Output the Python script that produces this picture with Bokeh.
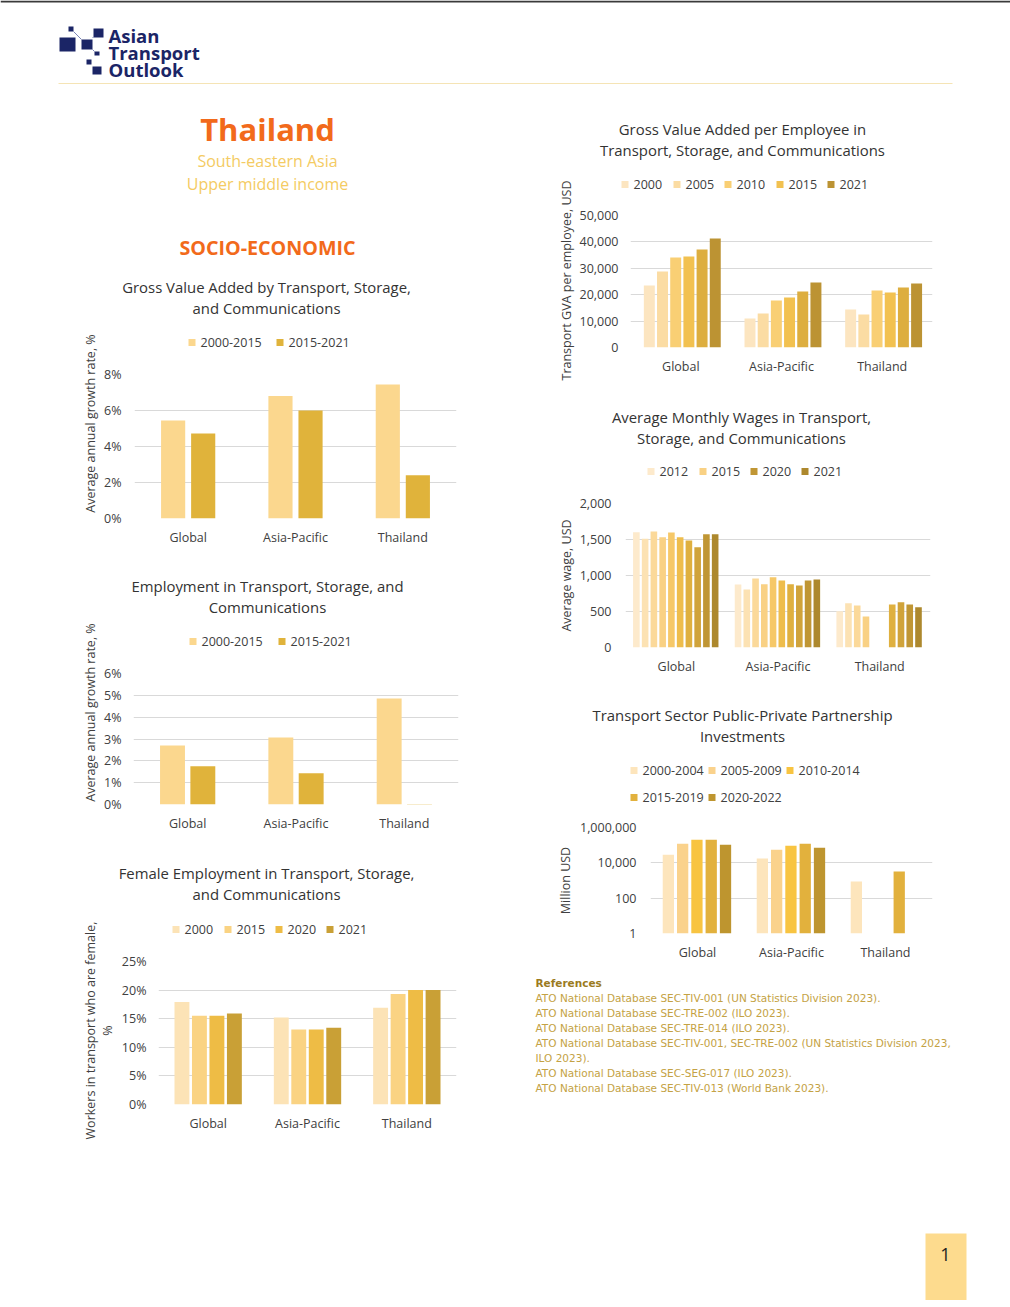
import math
from bokeh.plotting import figure
from bokeh.models import (ColumnDataSource, Range1d, FixedTicker, PrintfTickFormatter,
                          NumeralTickFormatter)
from bokeh.transform import dodge
from bokeh.layouts import column, row
from bokeh.embed import file_html
from bokeh.resources import INLINE
from bokeh.core.properties import value

NAN = float("nan")

# ---------------- data ----------------
REGIONS = ["Global", "Asia-Pacific", "Thailand"]

GVA_GROWTH_PERIODS = ["2000-2015", "2015-2021"]
GVA_GROWTH_2000_2015 = [5.45, 6.8, 7.45]
GVA_GROWTH_2015_2021 = [4.72, 6.0, 2.4]
GVA_GROWTH_TICKS = [0, 2, 4, 6, 8]

EMP_GROWTH_PERIODS = ["2000-2015", "2015-2021"]
EMP_GROWTH_2000_2015 = [2.7, 3.07, 4.86]
EMP_GROWTH_2015_2021 = [1.75, 1.43, 0.02]
EMP_GROWTH_TICKS = [0, 1, 2, 3, 4, 5, 6]

FEMALE_YEARS = ["2000", "2015", "2020", "2021"]
FEMALE_2000 = [17.9, 15.2, 16.9]
FEMALE_2015 = [15.5, 13.1, 19.3]
FEMALE_2020 = [15.5, 13.1, 20.0]
FEMALE_2021 = [15.9, 13.4, 20.0]
FEMALE_TICKS = [0, 5, 10, 15, 20, 25]

GVAPE_YEARS = ["2000", "2005", "2010", "2015", "2020", "2021"]
GVAPE_LEGEND = ["2000", "2005", "2010", "2015", "2021"]
GVAPE_2000 = [23500, 11000, 14400]
GVAPE_2005 = [28800, 12900, 12500]
GVAPE_2010 = [34100, 17800, 21600]
GVAPE_2015 = [34500, 18900, 20800]
GVAPE_2020 = [37100, 21200, 22700]
GVAPE_2021 = [41300, 24600, 24200]
GVAPE_TICKS = [0, 10000, 20000, 30000, 40000, 50000]

WAGE_YEARS = ["2012", "2013", "2014", "2015", "2016", "2017", "2018", "2019", "2020", "2021"]
WAGE_LEGEND = ["2012", "2015", "2020", "2021"]
WAGE_GLOBAL = [1602, 1510, 1611, 1532, 1597, 1532, 1486, 1393, 1574, 1574]
WAGE_ASIA_PACIFIC = [875, 806, 958, 880, 977, 931, 880, 861, 931, 944]
WAGE_THAILAND = [504, 616, 583, 431, NAN, NAN, 597, 630, 597, 560]
WAGE_TICKS = [0, 500, 1000, 1500, 2000]

PPP_PERIODS = ["2000-2004", "2005-2009", "2010-2014", "2015-2019", "2020-2022"]
PPP_GLOBAL = [29000, 121000, 204000, 204000, 107000]
PPP_ASIA_PACIFIC = [17400, 55800, 93700, 121000, 72400]
PPP_THAILAND = [884, NAN, NAN, 3230, NAN]
PPP_TICKS = [1, 100, 10000, 1000000]

REFERENCES = [
    "ATO National Database SEC-TIV-001 (UN Statistics Division 2023).",
    "ATO National Database SEC-TRE-002 (ILO 2023).",
    "ATO National Database SEC-TRE-014 (ILO 2023).",
    "ATO National Database SEC-TIV-001, SEC-TRE-002 (UN Statistics Division 2023,",
    "ILO 2023).",
    "ATO National Database SEC-SEG-017 (ILO 2023).",
    "ATO National Database SEC-TIV-013 (World Bank 2023).",
]

# ---------------- style ----------------
FONT = "Open Sans"
REF_FONT = "DejaVu Sans"
TXT = "#404040"
TITLE_C = "#333333"
GRID_C = "#d9d9d9"
ORANGE = "#F26A1B"
NAVY = "#1B2566"
ANG = math.pi / 2
TITLE_SIZE = "14.9px"

C_GROWTH = ["#FBD78E", "#E0B33B"]
C_FEMALE = ["#FCE3B6", "#FAD383", "#EEBC45", "#C9A036"]
C_GVAPE = ["#FCE5C0", "#FBDCA3", "#F9CF74", "#F2C150", "#DDAE3F", "#BC9333"]
C_WAGE = ["#FDEACC", "#FCE2B3", "#FBD99A", "#F9D184", "#F6C868",
          "#EEBD4C", "#DFB03F", "#D0A33A", "#C09634", "#AD882D"]
C_PPP = ["#FDE5BC", "#FAD28C", "#F8C441", "#E2B13D", "#BE952F"]


def page_fig(box):
    X0, Y0, X1, Y1 = box
    p = figure(width=X1 - X0, height=Y1 - Y0, x_range=Range1d(X0, X1), y_range=Range1d(Y1, Y0),
               output_backend="svg", toolbar_location=None, min_border=0,
               x_axis_location=None, y_axis_location=None, frame_align=False)
    p.grid.visible = False
    p.outline_line_color = None
    p.background_fill_color = "white"
    p.border_fill_color = "white"
    return p


def ptext(p, X, Y, text, size, color, bold=False, align="center", angle=0.0, font=FONT):
    p.text(x=[X], y=[Y], text=[text], text_font=value(font), text_font_size=size,
           text_color=color, text_align=align, text_baseline="middle", angle=angle,
           text_font_style="bold" if bold else "normal")


def legend_entries(p, xs, ys, names, colors):
    for X, Y, name, c in zip(xs, ys, names, colors):
        p.quad(left=[X - 12], right=[X - 5], top=[Y - 3.5], bottom=[Y + 3.5],
               fill_color=c, line_color=None)
        ptext(p, X, Y, name, "12.5px", TXT, align="left")


def chart(fig_box, frame_box, cols, colors, offsets, bar_w, y_lo, y_hi, ticks, fmt,
          ystand, xstand=10, log=False):
    X0, Y0, X1, Y1 = fig_box
    fx0, fy0, fx1, fy1 = frame_box
    p = figure(width=X1 - X0, height=Y1 - Y0, x_range=REGIONS, y_range=Range1d(y_lo, y_hi),
               y_axis_type="log" if log else "linear", output_backend="svg",
               toolbar_location=None, frame_align=False,
               min_border_left=fx0 - X0, min_border_right=X1 - fx1,
               min_border_top=fy0 - Y0, min_border_bottom=Y1 - fy1)
    p.x_range.range_padding = 0
    data = {"region": REGIONS}
    for i, vals in enumerate(cols):
        data["s%d" % i] = list(vals)
    src = ColumnDataSource(data)
    for i, (off, c) in enumerate(zip(offsets, colors)):
        p.vbar(x=dodge("region", off, range=p.x_range), top="s%d" % i,
               bottom=(1 if log else 0), width=bar_w, source=src,
               fill_color=c, line_color=None)
    p.yaxis.ticker = FixedTicker(ticks=ticks, minor_ticks=[])
    p.ygrid.ticker = FixedTicker(ticks=ticks, minor_ticks=[])
    p.yaxis.formatter = fmt
    for ax in p.axis:
        ax.axis_line_color = None
        ax.major_tick_line_color = None
        ax.minor_tick_line_color = None
        ax.major_tick_out = 0
        ax.major_tick_in = 0
        ax.major_label_text_font = FONT
        ax.major_label_text_font_size = "12.5px"
        ax.major_label_text_color = TXT
    p.yaxis.major_label_standoff = ystand
    p.xaxis.major_label_standoff = xstand
    p.xgrid.grid_line_color = None
    p.ygrid.grid_line_color = GRID_C
    p.ygrid.grid_line_width = 1
    p.outline_line_color = None
    p.background_fill_color = "white"
    p.border_fill_color = "white"
    return p


# ---------------- header ----------------
hdr = page_fig((0, 0, 1010, 100))
hdr.quad(left=[0], right=[1010], top=[0], bottom=[2], fill_color="#3a3a3a", line_color=None)
hdr.quad(left=[68, 59, 93, 81, 94, 86, 92], right=[73, 75, 103, 92, 99, 91, 101],
         top=[26, 37, 28, 39, 51, 59, 66], bottom=[31, 51, 37, 49, 55, 64, 74],
         fill_color=NAVY, line_color=None)
hdr.segment(x0=[73, 92, 92], y0=[31, 37, 49], x1=[81, 93, 94], y1=[39, 37, 51],
            line_color="#7d86b8", line_width=1)
ptext(hdr, 108, 35, "Asian", "18.5px", NAVY, bold=True, align="left")
ptext(hdr, 108, 52, "Transport", "18.5px", NAVY, bold=True, align="left")
ptext(hdr, 108, 69, "Outlook", "18.5px", NAVY, bold=True, align="left")
hdr.segment(x0=[58], y0=[83], x1=[952], y1=[83], line_color="#F5E4B5", line_width=1)

# ---------------- left intro ----------------
intro = page_fig((0, 100, 520, 262))
ptext(intro, 267, 128, "Thailand", "31px", ORANGE, bold=True)
ptext(intro, 267, 160, "South-eastern Asia", "16px", "#F4CB63")
ptext(intro, 267, 183, "Upper middle income", "16px", "#F4CB63")
ptext(intro, 267, 247, "SOCIO-ECONOMIC", "19.7px", ORANGE, bold=True)

# ---------------- chart 1 ----------------
y1 = page_fig((0, 262, 100, 555))
ptext(y1, 90, 423, "Average annual growth rate, %", "12.5px", TXT, angle=ANG)
t1 = page_fig((100, 262, 520, 355))
ptext(t1, 266, 286, "Gross Value Added by Transport, Storage,", TITLE_SIZE, TITLE_C)
ptext(t1, 266, 307, "and Communications", TITLE_SIZE, TITLE_C)
legend_entries(t1, [200, 288], [342, 342], GVA_GROWTH_PERIODS, C_GROWTH)
c1 = chart((100, 355, 520, 555), (134, 374, 456, 518),
           [GVA_GROWTH_2000_2015, GVA_GROWTH_2015_2021], C_GROWTH,
           [-0.14, 0.14], 0.225, 0, 8, GVA_GROWTH_TICKS, PrintfTickFormatter(format="%d%%"), 13)
b1 = row(y1, column(t1, c1))

# ---------------- chart 2 ----------------
y2 = page_fig((0, 555, 100, 845))
ptext(y2, 90, 712, "Average annual growth rate, %", "12.5px", TXT, angle=ANG)
t2 = page_fig((100, 555, 520, 655))
ptext(t2, 267, 585, "Employment in Transport, Storage, and", TITLE_SIZE, TITLE_C)
ptext(t2, 267, 606, "Communications", TITLE_SIZE, TITLE_C)
legend_entries(t2, [201, 290], [641, 641], EMP_GROWTH_PERIODS, C_GROWTH)
c2 = chart((100, 655, 520, 845), (133, 673, 458, 804),
           [EMP_GROWTH_2000_2015, EMP_GROWTH_2015_2021], C_GROWTH,
           [-0.14, 0.14], 0.23, 0, 6, EMP_GROWTH_TICKS, PrintfTickFormatter(format="%d%%"), 12)
b2 = row(y2, column(t2, c2))

# ---------------- chart 3 ----------------
y3 = page_fig((0, 845, 116, 1145))
ptext(y3, 90, 1030, "Workers in transport who are female,", "12.5px", TXT, angle=ANG)
ptext(y3, 107, 1030, "%", "12.5px", TXT, angle=ANG)
t3 = page_fig((116, 845, 520, 945))
ptext(t3, 266, 872, "Female Employment in Transport, Storage,", TITLE_SIZE, TITLE_C)
ptext(t3, 266, 893, "and Communications", TITLE_SIZE, TITLE_C)
legend_entries(t3, [184, 236, 287, 338], [929] * 4, FEMALE_YEARS, C_FEMALE)
c3 = chart((116, 945, 520, 1145), (158, 961, 456, 1104),
           [FEMALE_2000, FEMALE_2015, FEMALE_2020, FEMALE_2021], C_FEMALE,
           [-0.264, -0.088, 0.088, 0.264], 0.15, 0, 25, FEMALE_TICKS,
           PrintfTickFormatter(format="%d%%"), 12)
b3 = row(y3, column(t3, c3))

# ---------------- chart 4 ----------------
y4 = page_fig((520, 100, 576, 385))
ptext(y4, 566, 280, "Transport GVA per employee, USD", "12.5px", TXT, angle=ANG)
t4 = page_fig((576, 100, 1010, 198))
ptext(t4, 742, 128, "Gross Value Added per Employee in", TITLE_SIZE, TITLE_C)
ptext(t4, 742, 149, "Transport, Storage, and Communications", TITLE_SIZE, TITLE_C)
legend_entries(t4, [633, 685, 736, 788, 839], [184] * 5, GVAPE_LEGEND,
               [C_GVAPE[GVAPE_YEARS.index(n)] for n in GVAPE_LEGEND])
c4 = chart((576, 198, 1010, 385), (628, 215, 932, 347),
           [GVAPE_2000, GVAPE_2005, GVAPE_2010, GVAPE_2015, GVAPE_2020, GVAPE_2021], C_GVAPE,
           [-0.313, -0.182, -0.051, 0.08, 0.211, 0.342], 0.109, 0, 50000,
           GVAPE_TICKS, NumeralTickFormatter(format="0,0"), 12)
b4 = row(y4, column(t4, c4))

# ---------------- chart 5 ----------------
y5 = page_fig((520, 385, 576, 685))
ptext(y5, 566, 575, "Average wage, USD", "12.5px", TXT, angle=ANG)
t5 = page_fig((576, 385, 1010, 485))
ptext(t5, 741, 416, "Average Monthly Wages in Transport,", TITLE_SIZE, TITLE_C)
ptext(t5, 741, 437, "Storage, and Communications", TITLE_SIZE, TITLE_C)
legend_entries(t5, [659, 711, 762, 813], [471] * 4, WAGE_LEGEND,
               [C_WAGE[WAGE_YEARS.index(n)] for n in WAGE_LEGEND])
wage_cols = [[WAGE_GLOBAL[i], WAGE_ASIA_PACIFIC[i], WAGE_THAILAND[i]] for i in range(len(WAGE_YEARS))]
c5 = chart((576, 485, 1010, 685), (623, 503, 930, 647), wage_cols, C_WAGE,
           [-0.393 + 0.0861 * k for k in range(10)], 0.065, 0, 2000,
           WAGE_TICKS, NumeralTickFormatter(format="0,0"), 14)
b5 = row(y5, column(t5, c5))

# ---------------- chart 6 ----------------
y6 = page_fig((520, 685, 576, 968))
ptext(y6, 565, 880, "Million USD", "12.5px", TXT, angle=ANG)
t6 = page_fig((576, 685, 1010, 810))
ptext(t6, 742, 714, "Transport Sector Public-Private Partnership", TITLE_SIZE, TITLE_C)
ptext(t6, 742, 735, "Investments", TITLE_SIZE, TITLE_C)
legend_entries(t6, [642, 720, 798, 642, 720], [770, 770, 770, 797, 797], PPP_PERIODS, C_PPP)
ppp_cols = [[PPP_GLOBAL[i], PPP_ASIA_PACIFIC[i], PPP_THAILAND[i]] for i in range(len(PPP_PERIODS))]
c6 = chart((576, 810, 1010, 968), (647, 827, 932, 933), ppp_cols, C_PPP,
           [-0.31, -0.158, -0.006, 0.146, 0.298], 0.12, 1, 1000000,
           PPP_TICKS, NumeralTickFormatter(format="0,0"), 14, log=True)
b6 = row(y6, column(t6, c6))

# ---------------- references / page number ----------------
refs = page_fig((520, 968, 1010, 1300))
ptext(refs, 535, 982, "References", "10.5px", "#9B7B1E", bold=True, align="left", font=REF_FONT)
for i, line in enumerate(REFERENCES):
    ptext(refs, 535, 997 + 15 * i, line, "10.5px", "#C4A244", align="left", font=REF_FONT)
refs.quad(left=[925], right=[966], top=[1233], bottom=[1300], fill_color="#FDDB8E", line_color=None)
ptext(refs, 945, 1254, "1", "18px", "#222222")

left_col = column(intro, b1, b2, b3)
right_col = column(b4, b5, b6, refs)
layout = column(hdr, row(left_col, right_col))

open("out.html", "w").write(file_html(layout, INLINE))
